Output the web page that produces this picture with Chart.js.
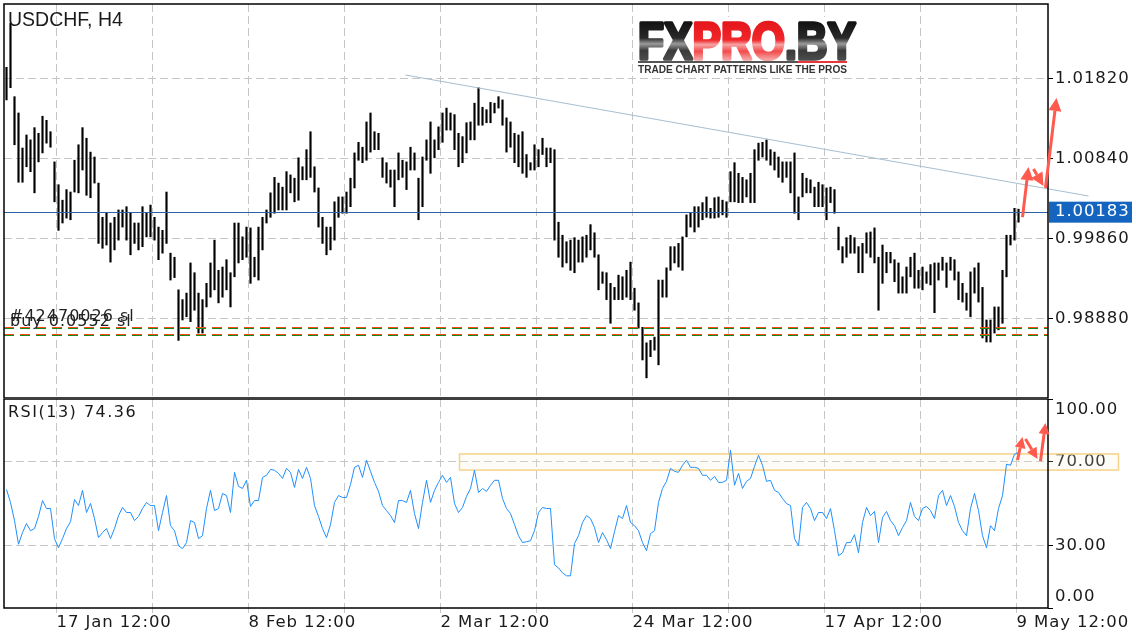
<!DOCTYPE html>
<html>
<head>
<meta charset="utf-8">
<script src="https://cdn.jsdelivr.net/npm/chart.js@4.4.1/dist/chart.umd.min.js"></script>
<style>
  html, body { margin: 0; padding: 0; background: #fff; }
  #wrap { position: relative; width: 1136px; height: 640px; overflow: hidden; background: #fff; }
  #priceChart { position: absolute; left: 0; top: 0; }
  #rsiChart { position: absolute; left: 0; top: 398px; }
</style>
</head>
<body>
<div id="wrap">
  <canvas id="priceChart" width="1136" height="398"></canvas>
  <canvas id="rsiChart" width="1136" height="242"></canvas>
</div>
<script>
// USDCHF H4 - one entry per two H4 bars (high / low)
var highs = [
  1.0196, 1.0250, 1.0160, 1.0140, 1.0097, 1.0113, 1.0107, 1.0122, 1.0115, 1.0136,
  1.0131, 1.0117, 1.0080, 1.0052, 1.0033, 1.0046, 1.0043, 1.0082, 1.0101, 1.0122,
  1.0109, 1.0092, 1.0086, 1.0054, 1.0012, 1.0018, 1.0005, 1.0012, 1.0021, 1.0021,
  1.0025, 1.0017, 1.0005, 1.0005, 1.0025, 1.0017, 1.0027, 1.0012, 1.0000, 0.9996,
  1.0043, 0.9968, 0.9963, 0.9923, 0.9911, 0.9919, 0.9956, 0.9944, 0.9919, 0.9911,
  0.9931, 0.9956, 0.9984, 0.9947, 0.9951, 0.9960, 0.9944, 1.0005, 1.0005, 0.9988,
  1.0000, 0.9999, 0.9963, 1.0000, 1.0012, 1.0021, 1.0042, 1.0061, 1.0054, 1.0049,
  1.0068, 1.0064, 1.0060, 1.0085, 1.0074, 1.0095, 1.0117, 1.0074, 1.0048, 1.0012,
  1.0000, 1.0000, 1.0031, 1.0037, 1.0037, 1.0043, 1.0060, 1.0091, 1.0104, 1.0098,
  1.0129, 1.0140, 1.0117, 1.0115, 1.0085, 1.0079, 1.0070, 1.0070, 1.0091, 1.0082,
  1.0080, 1.0098, 1.0091, 1.0060, 1.0086, 1.0107, 1.0129, 1.0107, 1.0123, 1.0140,
  1.0146, 1.0140, 1.0138, 1.0115, 1.0111, 1.0128, 1.0129, 1.0152, 1.0171, 1.0147,
  1.0144, 1.0153, 1.0152, 1.0160, 1.0156, 1.0134, 1.0129, 1.0115, 1.0113, 1.0117,
  1.0089, 1.0079, 1.0101, 1.0095, 1.0109, 1.0097, 1.0097, 1.0095, 1.0006, 0.9990,
  0.9982, 0.9984, 0.9987, 0.9984, 0.9988, 0.9990, 1.0003, 0.9993, 0.9966, 0.9945,
  0.9944, 0.9931, 0.9926, 0.9941, 0.9939, 0.9947, 0.9957, 0.9925, 0.9907, 0.9877,
  0.9858, 0.9861, 0.9865, 0.9935, 0.9935, 0.9950, 0.9976, 0.9976, 0.9980, 0.9988,
  1.0015, 1.0017, 1.0025, 1.0025, 1.0030, 1.0037, 1.0023, 1.0036, 1.0037, 1.0033,
  1.0031, 1.0068, 1.0079, 1.0066, 1.0061, 1.0058, 1.0066, 1.0095, 1.0103, 1.0104,
  1.0107, 1.0095, 1.0092, 1.0086, 1.0080, 1.0080, 1.0080, 1.0091, 1.0037, 1.0066,
  1.0060, 1.0058, 1.0049, 1.0055, 1.0052, 1.0048, 1.0049, 1.0046, 1.0000, 0.9976,
  0.9987, 0.9990, 0.9987, 0.9976, 0.9980, 0.9993, 0.9994, 0.9999, 0.9963, 0.9978,
  0.9969, 0.9969, 0.9960, 0.9956, 0.9939, 0.9951, 0.9963, 0.9968, 0.9947, 0.9951,
  0.9945, 0.9954, 0.9956, 0.9956, 0.9963, 0.9956, 0.9963, 0.9960, 0.9945, 0.9931,
  0.9919, 0.9945, 0.9950, 0.9956, 0.9926, 0.9886, 0.9886, 0.9902, 0.9902, 0.9947,
  0.9990, 0.9990, 1.0023, 1.0022
];
var lows = [
  1.0156, 1.0171, 1.0101, 1.0055, 1.0055, 1.0074, 1.0068, 1.0042, 1.0080, 1.0091,
  1.0103, 1.0098, 1.0031, 0.9996, 1.0005, 1.0011, 1.0009, 1.0043, 1.0042, 1.0070,
  1.0039, 1.0036, 1.0054, 0.9980, 0.9974, 0.9978, 0.9957, 0.9972, 0.9984, 1.0000,
  0.9984, 0.9966, 0.9980, 0.9972, 0.9976, 0.9988, 0.9988, 0.9984, 0.9960, 0.9968,
  0.9980, 0.9935, 0.9938, 0.9861, 0.9886, 0.9890, 0.9884, 0.9898, 0.9870, 0.9870,
  0.9902, 0.9914, 0.9923, 0.9907, 0.9914, 0.9923, 0.9902, 0.9939, 0.9956, 0.9960,
  0.9963, 0.9931, 0.9939, 0.9935, 0.9972, 1.0005, 1.0012, 1.0017, 1.0021, 1.0021,
  1.0021, 1.0042, 1.0031, 1.0033, 1.0058, 1.0058, 1.0061, 1.0043, 1.0000, 0.9980,
  0.9966, 0.9972, 0.9984, 1.0012, 1.0017, 1.0017, 1.0025, 1.0048, 1.0082, 1.0079,
  1.0082, 1.0092, 1.0095, 1.0095, 1.0061, 1.0054, 1.0049, 1.0025, 1.0058, 1.0061,
  1.0046, 1.0070, 1.0070, 1.0009, 1.0025, 1.0082, 1.0066, 1.0085, 1.0095, 1.0104,
  1.0119, 1.0119, 1.0095, 1.0074, 1.0079, 1.0091, 1.0107, 1.0107, 1.0125, 1.0125,
  1.0128, 1.0128, 1.0140, 1.0146, 1.0125, 1.0092, 1.0098, 1.0079, 1.0074, 1.0066,
  1.0061, 1.0070, 1.0070, 1.0074, 1.0089, 1.0074, 1.0079, 0.9984, 0.9963, 0.9951,
  0.9956, 0.9947, 0.9944, 0.9957, 0.9957, 0.9963, 0.9972, 0.9963, 0.9923, 0.9931,
  0.9911, 0.9882, 0.9911, 0.9911, 0.9911, 0.9914, 0.9911, 0.9898, 0.9876, 0.9837,
  0.9815, 0.9841, 0.9849, 0.9831, 0.9914, 0.9914, 0.9947, 0.9956, 0.9951, 0.9947,
  0.9988, 1.0000, 0.9994, 1.0000, 1.0009, 1.0012, 1.0011, 1.0011, 1.0012, 1.0015,
  1.0012, 1.0031, 1.0031, 1.0030, 1.0030, 1.0037, 1.0030, 1.0030, 1.0082, 1.0086,
  1.0082, 1.0076, 1.0070, 1.0061, 1.0055, 1.0061, 1.0042, 1.0017, 1.0009, 1.0037,
  1.0042, 1.0042, 1.0025, 1.0025, 1.0025, 1.0009, 1.0030, 1.0017, 0.9972, 0.9956,
  0.9963, 0.9968, 0.9968, 0.9944, 0.9944, 0.9968, 0.9963, 0.9956, 0.9898, 0.9931,
  0.9944, 0.9956, 0.9933, 0.9919, 0.9919, 0.9919, 0.9939, 0.9925, 0.9925, 0.9923,
  0.9931, 0.9929, 0.9895, 0.9935, 0.9947, 0.9926, 0.9947, 0.9935, 0.9911, 0.9908,
  0.9898, 0.9890, 0.9919, 0.9908, 0.9864, 0.9859, 0.9859, 0.9870, 0.9874, 0.9882,
  0.9939, 0.9978, 0.9984, 1.0006
];
// RSI(13) at the same positions
var rsiValues = [
  56.7, 50.5, 41.8, 30.5, 36.1, 40.4, 37.0, 38.0, 43.8, 51.4,
  47.6, 47.6, 33.2, 28.8, 33.2, 38.0, 41.3, 51.9, 49.0, 56.3,
  45.7, 50.0, 42.8, 33.7, 36.1, 38.0, 33.2, 38.0, 44.2, 48.1,
  45.7, 45.7, 41.8, 43.8, 47.6, 50.5, 49.0, 49.0, 37.0, 45.7,
  53.8, 39.4, 37.0, 29.8, 28.4, 31.3, 41.8, 40.9, 33.2, 34.6,
  47.6, 56.3, 46.6, 47.6, 54.8, 53.8, 45.7, 64.9, 58.2, 57.2,
  61.1, 48.6, 51.4, 51.4, 62.5, 63.5, 66.3, 65.9, 64.4, 62.0,
  66.8, 64.9, 57.7, 66.3, 62.0, 67.3, 62.0, 49.0, 43.8, 38.0,
  33.7, 39.9, 50.5, 53.8, 52.9, 52.9, 59.1, 67.3, 68.3, 62.5,
  70.7, 65.4, 60.1, 55.8, 49.0, 46.6, 44.2, 40.9, 51.4, 51.4,
  50.5, 56.3, 45.2, 38.0, 50.5, 61.1, 50.5, 56.3, 60.1, 63.5,
  60.1, 62.5, 50.0, 45.7, 48.1, 53.4, 57.2, 65.9, 55.3, 57.2,
  55.8, 58.7, 61.1, 61.1, 52.4, 47.6, 45.2, 39.9, 34.6, 31.3,
  31.7, 32.2, 37.0, 45.7, 48.1, 47.6, 47.6, 20.7, 19.2, 16.8,
  15.4, 15.4, 30.8, 34.6, 40.9, 44.2, 42.8, 38.5, 31.3, 36.1,
  32.7, 28.4, 36.5, 44.2, 42.8, 49.0, 40.9, 39.4, 37.0, 31.3,
  27.4, 35.6, 37.0, 50.5, 57.2, 60.6, 66.8, 65.4, 64.9, 68.3,
  70.7, 67.3, 67.3, 66.8, 63.5, 63.5, 61.1, 63.0, 60.1, 60.1,
  61.1, 75.5, 58.7, 64.4, 57.2, 60.6, 62.0, 67.8, 73.1, 68.3,
  60.6, 61.1, 56.3, 55.3, 52.4, 50.0, 49.0, 33.2, 29.8, 48.1,
  50.5, 47.6, 41.8, 45.7, 45.7, 42.8, 47.6, 37.0, 25.0, 26.4,
  31.3, 31.3, 35.1, 26.4, 40.9, 48.1, 44.2, 46.2, 31.3, 43.3,
  46.2, 41.8, 39.4, 34.6, 38.5, 41.8, 50.5, 43.8, 41.8, 47.6,
  48.6, 46.6, 42.8, 53.8, 56.3, 49.0, 53.8, 48.6, 40.9, 37.0,
  34.6, 47.6, 54.8, 46.6, 34.6, 28.8, 39.4, 37.0, 47.6, 53.8,
  68.8, 68.3, 73.6, 74.36
];

// axis ticks
var xTickIdx = [12.5, 36.5, 60.5, 84.5, 108.5, 132.5, 156.5, 180.5, 204.5, 228.5, 252.5];
var xTickLabels = ['17 Jan 12:00', '', '8 Feb 12:00', '', '2 Mar 12:00', '', '24 Mar 12:00', '', '17 Apr 12:00', '', '9 May 12:00'];
var priceTicks = [0.9888, 0.9986, 1.0084, 1.0182];
var rsiTicks = [0, 30, 70, 100];

// levels and drawings on the chart
var currentPrice = 1.00183;
var orderLevels = [0.98765, 0.98676];
var trendLine = [99.75, 1.01866, 270.5, 1.00381];
var priceArrows = [[254, 1.00123, 255.5, 1.00737], [256.75, 1.00712, 259.25, 1.00504], [259.75, 1.00479, 262.5, 1.01584]];
var rsiArrows = [[252.75, 70.8, 254, 81.8], [254.75, 80.9, 257.75, 71.3], [258.5, 70.3, 259.75, 88.5]];
var rsiZone = [113.25, 73.7, 278, 66.0];
var rsiLast = 74.36;

var xMin = -0.625, xMax = 260.375;   // a quarter step shift keeps the thin bars on whole pixels
var priceMin = 0.97903, priceMax = 1.02737;

var gridColor = '#c6c6c6';
var textColor = '#1a1a1a';
var axisFont = { family: '"DejaVu Sans"', size: 16.5 };
var arrowColor = '#ff5a4e';

function noPad(s) {   // chart.js reserves half a label above/below, the original does not
  s.paddingTop = 0; s.paddingBottom = 0; s.paddingLeft = 0; s.paddingRight = 0;
}

function drawArrow(ctx, x1, y1, x2, y2, hl, hw) {   // red hand-drawn style arrows
  var ang = Math.atan2(y2 - y1, x2 - x1);
  var bx = x2 - hl * Math.cos(ang), by = y2 - hl * Math.sin(ang);
  ctx.strokeStyle = arrowColor;
  ctx.fillStyle = arrowColor;
  ctx.lineWidth = 3;
  ctx.setLineDash([]);
  ctx.beginPath(); ctx.moveTo(x1, y1); ctx.lineTo(bx, by); ctx.stroke();
  ctx.beginPath();
  ctx.moveTo(x2, y2);
  ctx.lineTo(bx + hw * Math.sin(ang), by - hw * Math.cos(ang));
  ctx.lineTo(bx - hw * Math.sin(ang), by + hw * Math.cos(ang));
  ctx.closePath(); ctx.fill();
}

function drawLogo(ctx) {
  ctx.save();
  ctx.fillStyle = '#fff';
  ctx.fillRect(634, 17, 228, 60);
  ctx.letterSpacing = '0px';
  ctx.font = 'bold 51px "Liberation Sans"';
  ctx.textBaseline = 'alphabetic';
  var parts = ['FX', 'PRO', '.BY'];
  var total = ctx.measureText('FXPRO.BY').width;
  var sx = 218 / total;
  var dark = ctx.createLinearGradient(0, -38, 0, 0);
  dark.addColorStop(0, '#111'); dark.addColorStop(0.45, '#2a2a2a'); dark.addColorStop(0.6, '#9a9a9a');
  dark.addColorStop(0.78, '#3a3a3a'); dark.addColorStop(1, '#4a4a4a');
  var red = ctx.createLinearGradient(0, -38, 0, 0);
  red.addColorStop(0, '#e4161b'); red.addColorStop(0.5, '#f0262a'); red.addColorStop(0.62, '#f7a3a3');
  red.addColorStop(0.8, '#f24b4b'); red.addColorStop(1, '#f6a0a0');
  var fills = [dark, red, dark];
  ctx.translate(638, 59);
  ctx.scale(sx, 1);
  ctx.lineJoin = 'round';
  ctx.lineWidth = 3.5;
  var cx = 0;
  for (var i = 0; i < parts.length; i++) {
    ctx.fillStyle = fills[i];
    ctx.strokeStyle = fills[i];
    ctx.strokeText(parts[i], cx, 0);
    ctx.fillText(parts[i], cx, 0);
    cx += ctx.measureText(parts[i]).width;
  }
  ctx.restore();
  ctx.save();
  ctx.fillStyle = '#555'; ctx.fillRect(638, 61, 160, 2);
  ctx.fillStyle = '#e8383a'; ctx.fillRect(798, 61, 49, 2);
  ctx.font = 'bold 10px "Liberation Sans"';
  ctx.letterSpacing = '0px';
  var sub = 'TRADE CHART PATTERNS LIKE THE PROS';
  var w = ctx.measureText(sub).width;
  ctx.translate(638, 72.5);
  ctx.scale(209 / w, 1);
  ctx.fillStyle = '#333';
  ctx.fillText(sub, 0, 0);
  ctx.restore();
}

var pricePlugin = {
  id: 'pricePane',
  beforeDraw: function (chart) { chart.ctx.letterSpacing = '0.9px'; },
  afterDatasetsDraw: function (chart) {
    var ctx = chart.ctx, a = chart.chartArea, x = chart.scales.x, y = chart.scales.y;
    ctx.save();
    // pending order levels: orange over green dashes
    ctx.lineWidth = 1;
    ctx.setLineDash([10, 6]);
    orderLevels.forEach(function (p) {
      var py = Math.round(y.getPixelForValue(p));
      ctx.strokeStyle = '#ff4a10';
      ctx.beginPath(); ctx.moveTo(a.left, py - 0.5); ctx.lineTo(a.right, py - 0.5); ctx.stroke();
      ctx.strokeStyle = '#138a1e';
      ctx.beginPath(); ctx.moveTo(a.left, py + 0.5); ctx.lineTo(a.right, py + 0.5); ctx.stroke();
    });
    // current price line
    ctx.setLineDash([]);
    var cy = Math.round(y.getPixelForValue(currentPrice)) + 0.5;
    ctx.strokeStyle = '#2a62a8';
    ctx.beginPath(); ctx.moveTo(a.left, cy); ctx.lineTo(a.right, cy); ctx.stroke();
    // trend line (runs past the plot edge like the original)
    ctx.strokeStyle = '#a9bfd0';
    ctx.lineWidth = 1.2;
    ctx.beginPath();
    ctx.moveTo(x.getPixelForValue(trendLine[0]), y.getPixelForValue(trendLine[1]));
    ctx.lineTo(x.getPixelForValue(trendLine[2]), y.getPixelForValue(trendLine[3]));
    ctx.stroke();
    ctx.restore();
  },
  afterDraw: function (chart) {
    var ctx = chart.ctx, a = chart.chartArea, x = chart.scales.x, y = chart.scales.y;
    ctx.save();
    ctx.strokeStyle = '#000';
    ctx.lineWidth = 1.5;
    ctx.setLineDash([]);
    ctx.strokeRect(a.left, a.top, a.right - a.left, a.bottom - a.top);

    drawLogo(ctx);

    ctx.fillStyle = textColor;
    ctx.letterSpacing = '0px';
    ctx.font = '19.5px "Liberation Sans"';
    ctx.textBaseline = 'alphabetic';
    ctx.textAlign = 'left';
    ctx.fillText('USDCHF, H4', 8, 26);

    // overlapping order labels
    ctx.font = '16px "DejaVu Sans"';
    ctx.letterSpacing = '1px';
    ctx.fillStyle = '#222';
    ctx.fillText('#42470026 sl', 10, 321);
    ctx.fillText('buy 0.0552 sl', 10, 326);

    // price tag
    var py = y.getPixelForValue(currentPrice);
    ctx.fillStyle = '#1565c0';
    ctx.fillRect(1049, py - 10.5, 83, 21);
    ctx.fillStyle = '#fff';
    ctx.font = '16.5px "DejaVu Sans"';
    ctx.letterSpacing = '0.9px';
    ctx.textBaseline = 'middle';
    ctx.fillText(currentPrice.toFixed(5), 1055, py);

    priceArrows.forEach(function (r) {
      drawArrow(ctx, x.getPixelForValue(r[0]), y.getPixelForValue(r[1]), x.getPixelForValue(r[2]), y.getPixelForValue(r[3]), 13, 6.5);
    });
    ctx.restore();
  }
};

var rsiPlugin = {
  id: 'rsiPane',
  beforeDraw: function (chart) { chart.ctx.letterSpacing = '0.9px'; },
  beforeDatasetsDraw: function (chart) {
    var ctx = chart.ctx, x = chart.scales.x, y = chart.scales.y;
    var x1 = x.getPixelForValue(rsiZone[0]), y1 = y.getPixelForValue(rsiZone[1]);
    var x2 = x.getPixelForValue(rsiZone[2]), y2 = y.getPixelForValue(rsiZone[3]);
    ctx.save();
    ctx.fillStyle = 'rgba(250, 236, 205, 0.18)';
    ctx.fillRect(x1, y1, x2 - x1, y2 - y1);
    ctx.strokeStyle = '#f6d289';
    ctx.lineWidth = 1.5;
    ctx.setLineDash([]);
    ctx.strokeRect(x1, y1, x2 - x1, y2 - y1);
    ctx.restore();
  },
  afterDraw: function (chart) {
    var ctx = chart.ctx, a = chart.chartArea, x = chart.scales.x, y = chart.scales.y;
    ctx.save();
    ctx.strokeStyle = '#000';
    ctx.lineWidth = 1.5;
    ctx.setLineDash([]);
    ctx.strokeRect(a.left, a.top, a.right - a.left, a.bottom - a.top);

    ctx.fillStyle = textColor;
    ctx.textAlign = 'left';
    ctx.textBaseline = 'alphabetic';
    ctx.font = '16px "DejaVu Sans"';
    ctx.letterSpacing = '1.5px';
    ctx.fillText('RSI(13) ' + rsiLast.toFixed(2), 8, 18.5);

    // end labels kept inside the pane
    ctx.font = '16.5px "DejaVu Sans"';
    ctx.letterSpacing = '0.9px';
    ctx.textBaseline = 'middle';
    ctx.fillText((100).toFixed(2), 1055, y.getPixelForValue(100) + 11);
    ctx.fillText((0).toFixed(2), 1055, y.getPixelForValue(0) - 11);

    rsiArrows.forEach(function (r) {
      drawArrow(ctx, x.getPixelForValue(r[0]), y.getPixelForValue(r[1]), x.getPixelForValue(r[2]), y.getPixelForValue(r[3]), 11, 5.5);
    });
    ctx.restore();
  }
};

new Chart(document.getElementById('priceChart'), {
  type: 'bar',
  data: {
    datasets: [{
      data: highs.map(function (h, i) { return { x: i, y: [lows[i], h] }; }),
      backgroundColor: '#000',
      borderWidth: 0,
      barThickness: 1.5,
      grouped: false
    }]
  },
  options: {
    responsive: false,
    animation: false,
    events: [],
    layout: { padding: { left: 4, top: 4, right: 0, bottom: 0 } },
    plugins: { legend: { display: false }, tooltip: { enabled: false } },
    scales: {
      x: {
        type: 'linear', min: xMin, max: xMax, offset: false,
        afterBuildTicks: function (s) { s.ticks = xTickIdx.map(function (v) { return { value: v }; }); },
        afterFit: function (s) { s.height = 0; noPad(s); },
        ticks: { display: false },
        grid: { color: gridColor, drawTicks: false, offset: false },
        border: { display: false, dash: [8, 4] }
      },
      y: {
        position: 'right', min: priceMin, max: priceMax, beginAtZero: false,
        afterBuildTicks: function (s) { s.ticks = priceTicks.map(function (v) { return { value: v }; }); },
        afterFit: function (s) { s.width = 88; noPad(s); },
        ticks: { color: textColor, font: axisFont, padding: 2, callback: function (v) { return v.toFixed(5); } },
        grid: { color: gridColor, tickColor: '#000', tickLength: 5, tickBorderDash: [] },
        border: { display: false, dash: [8, 4] }
      }
    }
  },
  plugins: [pricePlugin]
});

new Chart(document.getElementById('rsiChart'), {
  type: 'line',
  data: {
    datasets: [{
      data: rsiValues.map(function (v, i) { return { x: i, y: v }; }),
      borderColor: '#1e90ff',
      borderWidth: 1,
      pointRadius: 0,
      tension: 0,
      fill: false
    }]
  },
  options: {
    responsive: false,
    animation: false,
    events: [],
    layout: { padding: { left: 4, top: 1, right: 0, bottom: 0 } },
    plugins: { legend: { display: false }, tooltip: { enabled: false } },
    scales: {
      x: {
        type: 'linear', min: xMin, max: xMax, offset: false,
        afterBuildTicks: function (s) { s.ticks = xTickIdx.map(function (v) { return { value: v }; }); },
        afterFit: function (s) { s.height = 32; noPad(s); },
        ticks: {
          color: textColor, font: axisFont, align: 'start', padding: 0, maxRotation: 0, autoSkip: false,
          callback: function (v, i) { return xTickLabels[i]; }
        },
        grid: { color: gridColor, tickColor: gridColor, tickLength: 5 },
        border: { display: false, dash: [8, 4] }
      },
      y: {
        position: 'right', min: 0, max: 100,
        afterBuildTicks: function (s) { s.ticks = rsiTicks.map(function (v) { return { value: v }; }); },
        afterFit: function (s) { s.width = 88; noPad(s); },
        ticks: {
          color: textColor, font: axisFont, padding: 2,
          callback: function (v) { return (v === 0 || v === 100) ? '' : v.toFixed(2); }
        },
        grid: {
          color: function (c) { return (c.tick && (c.tick.value === 0 || c.tick.value === 100)) ? 'rgba(0,0,0,0)' : gridColor; },
          tickColor: '#000', tickLength: 5, tickBorderDash: []
        },
        border: { display: false, dash: [8, 4] }
      }
    }
  },
  plugins: [rsiPlugin]
});
</script>
</body>
</html>
